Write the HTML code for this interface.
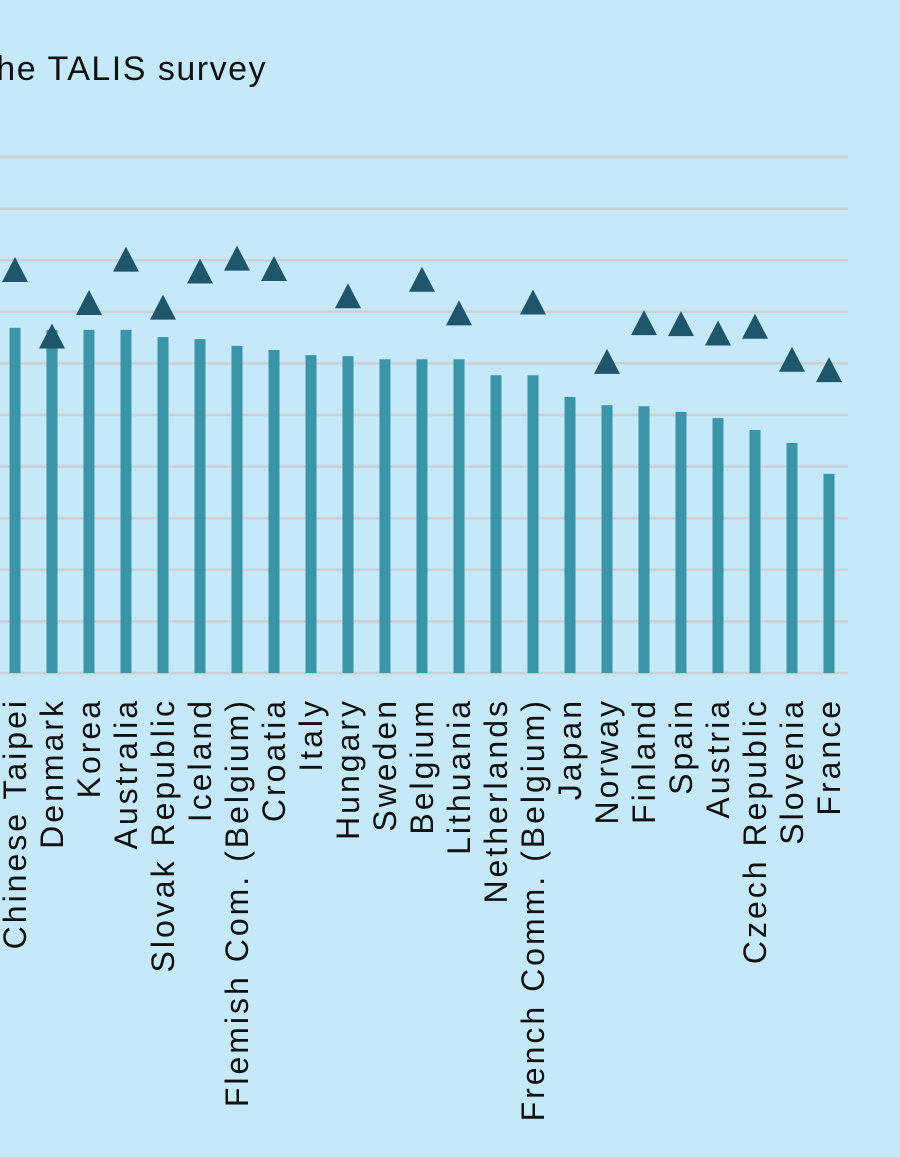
<!DOCTYPE html>
<html><head><meta charset="utf-8">
<style>
html,body{margin:0;padding:0;background:#c5e9f8;}
svg{display:block;font-family:"Liberation Sans",sans-serif;}
</style></head>
<body>
<svg id="chart" width="900" height="1157" viewBox="0 0 900 1157">
<rect x="0" y="0" width="900" height="1157" fill="#c5e9f8"/>
<text x="267" y="80" text-anchor="end" font-size="34" letter-spacing="1.5" fill="#111">he TALIS survey</text>
<g id="grid"></g><g id="bars"></g><g id="markers"></g><g id="labels"></g>
</svg>
<script>
const categories = ["Chinese Taipei","Denmark","Korea","Australia","Slovak Republic","Iceland","Flemish Com. (Belgium)","Croatia","Italy","Hungary","Sweden","Belgium","Lithuania","Netherlands","French Comm. (Belgium)","Japan","Norway","Finland","Spain","Austria","Czech Republic","Slovenia","France"];
const barValues = [66.9,66.5,66.5,66.5,65.1,64.7,63.4,62.6,61.6,61.4,60.8,60.8,60.8,57.7,57.7,53.5,51.9,51.7,50.6,49.4,47.1,44.6,38.6];
const markerValues = [78.2,65.3,71.8,80.2,70.9,77.9,80.4,78.4,null,73.1,null,76.3,69.8,null,71.9,null,60.4,67.9,67.7,65.9,67.2,60.8,58.8];
const gridTicks = [0,10,20,30,40,50,60,70,80,90,100];

const NS="http://www.w3.org/2000/svg";
const y0=673, y1=157, vmax=100;
function yScale(v){return y0-(v/vmax)*(y0-y1);}
function xScale(i){return 15+i*37.0;}
function mk(tag,attrs,parent){const e=document.createElementNS(NS,tag);for(const k in attrs)e.setAttribute(k,attrs[k]);parent.appendChild(e);return e;}
const grid=document.getElementById('grid'),bars=document.getElementById('bars'),markers=document.getElementById('markers'),labels=document.getElementById('labels');
gridTicks.forEach(t=>{
  const l=mk('line',{x1:0,x2:848,y1:yScale(t),y2:yScale(t),stroke:'#c9cfd3','stroke-width':2.5},grid);
  
  
});
categories.forEach((c,i)=>{
  const x=xScale(i);
  const b=mk('rect',{x:x-5.5,y:yScale(barValues[i]),width:11,height:y0-yScale(barValues[i]),fill:'#3a95a8'},bars);
  
  
  if(markerValues[i]!=null){
    const cy=yScale(markerValues[i]);
    const p=mk('polygon',{points:`${x},${cy-12.5} ${x-13},${cy+12.5} ${x+13},${cy+12.5}`,fill:'#1f566c'},markers);
    
    
  }
  const t=mk('text',{x:0,y:0,transform:`translate(${x+11},698) rotate(-90)`,'text-anchor':'end','font-size':32,'letter-spacing':3,fill:'#111'},labels);
  t.textContent=c;
  
  
});
</script>
</body></html>
